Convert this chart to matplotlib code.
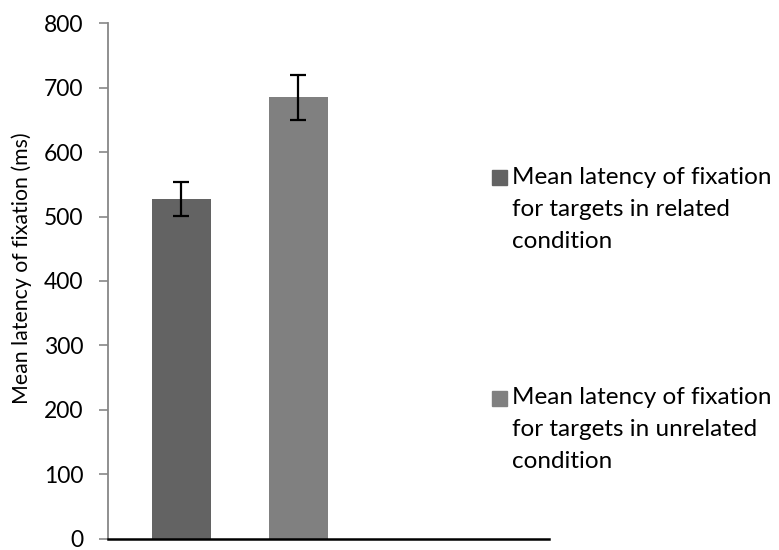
import matplotlib.pyplot as plt
from matplotlib.patches import Rectangle

# dados
condicoes = ['related', 'unrelated']
medias = [527, 685]
erros = [26.5, 34.5]
cores = ['#636363', '#808080']
rotulos = ['Mean latency of fixation\nfor targets in related\ncondition',
           'Mean latency of fixation\nfor targets in unrelated\ncondition']
ticks_y = [0, 100, 200, 300, 400, 500, 600, 700, 800]

plt.rcParams['font.family'] = ['Lato', 'DejaVu Sans']

W, H = 779, 550
fig = plt.figure(figsize=(W / 100, H / 100), dpi=100)
ax = fig.add_axes([108 / W, 1 - 538.5 / H, (549 - 108) / W, (538.5 - 23.3) / H])

pos = list(range(len(condicoes)))
ax.bar(pos, medias, width=0.5, color=cores, zorder=2)
ax.errorbar(pos, medias, yerr=erros, fmt='none', ecolor='black',
            elinewidth=1.6, capsize=6, capthick=1.6, zorder=3)

ax.set_xlim(-0.627, 3.14)
ax.set_ylim(0, 800)
ax.set_yticks(ticks_y)
ax.set_xticks([])
ax.tick_params(axis='y', direction='out', length=6.5, width=1.2, color='#878787',
               labelsize=16.5, pad=11)
for s in ['top', 'right']:
    ax.spines[s].set_visible(False)
ax.spines['left'].set_color('#878787')
ax.spines['left'].set_linewidth(1.3)
ax.spines['bottom'].set_color('black')
ax.spines['bottom'].set_linewidth(1.8)

fig.text(22 / W, 1 - 268 / H, 'Mean latency of fixation (ms)', rotation=90,
         ha='center', va='center', fontsize=15.3)

# legenda feita à mão para alinhar o quadrado com a primeira linha
topos = [177, 398]
for rot, cor, yt in zip(rotulos, cores, topos):
    fig.add_artist(Rectangle((492 / W, 1 - (yt + 7.5) / H), 15 / W, 15 / H,
                             transform=fig.transFigure, color=cor))
    for i, linha in enumerate(rot.split('\n')):
        fig.text(512 / W, 1 - (yt + i * 32) / H, linha, ha='left', va='center',
                 fontsize=17.5)

fig.savefig('out.png', dpi=100)
